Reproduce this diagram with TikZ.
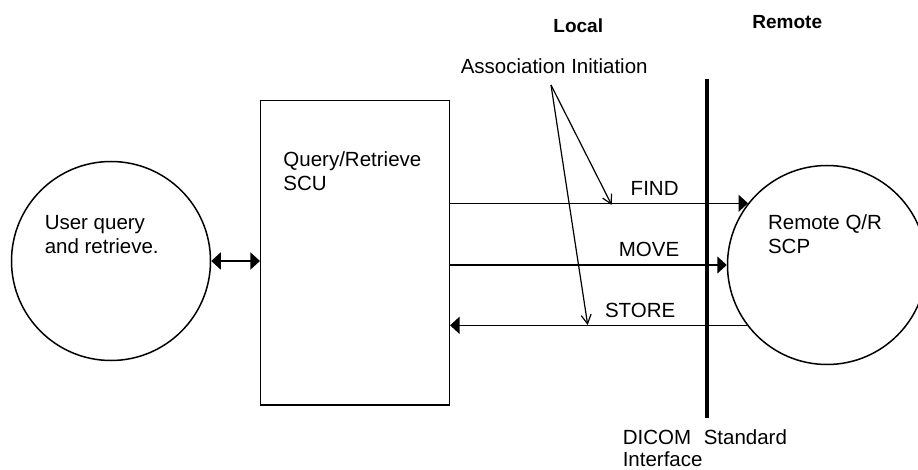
\documentclass[tikz,border=0pt]{standalone}
\usepackage{fontspec}
\setmainfont{Liberation Sans}
\usetikzlibrary{arrows.meta}

\begin{document}
\begin{tikzpicture}[x=1pt, y=-1pt, line width=1.5pt,
  txt/.style={inner sep=0pt, align=left, font=\fontsize{20.5}{24.5}\selectfont},
  hdr/.style={inner sep=0pt, font=\fontsize{19}{23}\selectfont\bfseries},
  party/.style={draw, circle, minimum size=199pt, inner sep=0pt},
  msg/.style={-{Triangle[length=9.5pt,width=17pt]}},
  hint/.style={line width=1.2pt, -{Straight Barb[length=9pt,width=10pt]}}]

\useasboundingbox (0,0) rectangle (918,470);
\clip (0,0) rectangle (918,470);

\node[party] (user) at (111,261) {};
\node[draw, inner sep=0pt, minimum width=188.6pt, minimum height=304.3pt]
  (scu) at (355,252.85) {};
\node[party] (scp) at (827,265) {};

% base anchor sits on the last line
\node[txt, anchor=base west] (usertext) at (44,254)
  {User query\\and retrieve.};
\node[txt, anchor=base west] (scutext) at (282.7,191)
  {Query/Retrieve\\SCU};
\node[txt, anchor=base west] (scptext) at (767.3,254)
  {Remote Q/R\\SCP};

\node[hdr, anchor=base west] (local) at (552.7,32.3) {Local};
\node[hdr, anchor=base west] (remote) at (751.7,28.3) {Remote};

\coordinate(wallTop) at (707,79);
\coordinate(wallBot) at (707,418);
\draw[line width=4pt] (wallTop) to (wallBot);

\draw[{Triangle[length=9.5pt,width=17pt]}-{Triangle[length=9.5pt,width=17pt]}]
  (user.east) to (scu.west |- user.east);

\draw[msg] (scu.east |- scp.142.9) to (scp.142.9);
\draw[msg] (scu.east |- scp.west) to (scp.west);
\draw[msg] (scp.217.1) to (scu.east |- scp.217.1);

\node[txt, anchor=base east] (find) at (679.3,196) {FIND};
\node[txt, anchor=base east] (move) at (680,256.7) {MOVE};
\node[txt, anchor=base east] (store) at (676,317.7) {STORE};

\node[txt, anchor=base west] (assoc) at (460,74) {Association Initiation};
\coordinate(fork) at (551,85);
\coordinate(findHit) at (611.7,205);
\coordinate(storeHit) at (587.7,325);
\draw[hint] (fork) to (findHit);
\draw[hint] (fork) to (storeHit);

\node[txt, anchor=base west, font=\fontsize{20.5}{21.5}\selectfont] (dicom)
  at (622,466) {DICOM\hspace{7pt} Standard\\Interface};

\end{tikzpicture}
\end{document}
